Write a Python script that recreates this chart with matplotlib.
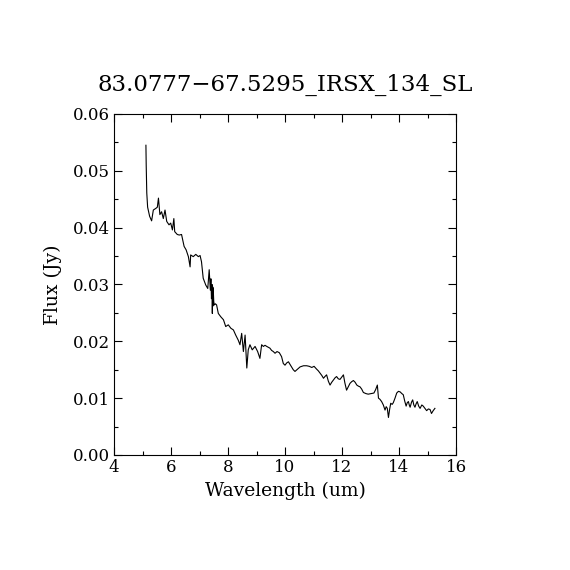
import numpy as np
import matplotlib
matplotlib.use('Agg')
import matplotlib.pyplot as plt
from matplotlib.ticker import MultipleLocator, FormatStrFormatter

title = '83.0777\u221267.5295_IRSX_134_SL'

wavelength = [5.12, 5.13, 5.15, 5.18, 5.25, 5.32, 5.38, 5.47, 5.52, 5.56, 5.61, 5.67,
              5.73, 5.79, 5.85, 5.93, 5.99, 6.05, 6.10, 6.13, 6.22, 6.29, 6.37, 6.46,
              6.53, 6.61, 6.67, 6.69, 6.78, 6.87, 6.96, 7.02, 7.07, 7.13, 7.22, 7.29,
              7.34, 7.38, 7.40, 7.42, 7.44, 7.45, 7.46, 7.47, 7.48, 7.50, 7.52, 7.56,
              7.60, 7.66, 7.75, 7.84, 7.92, 8.01, 8.10, 8.19, 8.27, 8.36, 8.42, 8.48,
              8.54, 8.60, 8.66, 8.71, 8.77, 8.85, 8.95, 9.04, 9.12, 9.18, 9.24, 9.30,
              9.36, 9.47, 9.53, 9.59, 9.65, 9.72,
              9.80, 9.88, 9.94, 10.00, 10.06, 10.12, 10.18, 10.23, 10.29, 10.35, 10.44,
              10.53, 10.65, 10.76, 10.85, 10.94, 11.02, 11.11, 11.17, 11.23, 11.29, 11.35,
              11.40, 11.46, 11.52, 11.58, 11.64, 11.70, 11.76, 11.81, 11.87, 11.93, 11.99,
              12.05, 12.10, 12.16, 12.22, 12.28, 12.34, 12.40, 12.46, 12.52, 12.58, 12.63,
              12.69, 12.75, 12.84, 12.92, 13.02, 13.12, 13.18, 13.24, 13.28, 13.33, 13.39,
              13.45, 13.51, 13.55, 13.59, 13.63, 13.67, 13.71, 13.76, 13.80, 13.86, 13.92,
              13.98, 14.04, 14.10, 14.15, 14.20, 14.25, 14.29, 14.33, 14.36, 14.39, 14.44,
              14.48, 14.52, 14.56, 14.60, 14.64, 14.69, 14.74, 14.80, 14.85, 14.91, 14.97,
              15.03, 15.09, 15.14, 15.20, 15.26]

flux = [0.0545, 0.0510, 0.0461, 0.0436, 0.0420, 0.0412, 0.0431, 0.0434, 0.0436, 0.0452,
        0.0423, 0.0428, 0.0416, 0.0431, 0.0411, 0.0405, 0.0408, 0.0396, 0.0416, 0.0393,
        0.0388, 0.0387, 0.0388, 0.0367, 0.0361, 0.0349, 0.0331, 0.0352, 0.0349, 0.0353,
        0.0349, 0.0351, 0.0340, 0.0311, 0.0299, 0.0293, 0.0326, 0.0290, 0.0310, 0.0275,
        0.0300, 0.0249, 0.0296, 0.0262, 0.0294, 0.0270, 0.0264, 0.0266, 0.0264, 0.0249,
        0.0243, 0.0238, 0.0226, 0.0229, 0.0223, 0.0220, 0.0211, 0.0202, 0.0194, 0.0214,
        0.0182, 0.0211, 0.0153, 0.0185, 0.0194, 0.0185, 0.0191, 0.0182, 0.0170, 0.0194,
        0.0191, 0.0193, 0.0191, 0.0188, 0.0184, 0.0182, 0.0179, 0.0182, 0.0180, 0.0173,
        0.0161, 0.0158, 0.0162, 0.0164, 0.0159, 0.0155, 0.0150, 0.0147, 0.0151, 0.0155,
        0.0157, 0.0157, 0.0156, 0.0154, 0.0156, 0.0151, 0.0148, 0.0144, 0.0140, 0.0135,
        0.0138, 0.0141, 0.0130, 0.0123, 0.0128, 0.0132, 0.0136, 0.0138, 0.0134, 0.0133,
        0.0137, 0.0141, 0.0127, 0.0114, 0.0120, 0.0126, 0.0129, 0.0131, 0.0128, 0.0123,
        0.0121, 0.0120, 0.0116, 0.0110, 0.0108, 0.0107, 0.0108, 0.0109, 0.0115, 0.0123,
        0.0100, 0.0098, 0.0094, 0.0088, 0.0079, 0.0085, 0.0082, 0.0066, 0.0080, 0.0091,
        0.0089, 0.0092, 0.0100, 0.0109, 0.0112, 0.0111, 0.0108, 0.0106, 0.0095, 0.0086,
        0.0092, 0.0094, 0.0088, 0.0084, 0.0093, 0.0097, 0.0088, 0.0084, 0.0090, 0.0094,
        0.0086, 0.0082, 0.0088, 0.0086, 0.0082, 0.0078, 0.0081, 0.0080, 0.0073, 0.0078,
        0.0082]

plt.rcParams['font.family'] = ['DejaVu Serif']

fig = plt.figure(figsize=(5.7, 5.7), dpi=100)
ax = fig.add_axes([0.2, 0.2018, 0.6, 0.5982])
ax.plot(wavelength, flux, color='black', lw=0.8)

ax.set_xlim(4, 16)
ax.set_ylim(0, 0.06)
ax.xaxis.set_major_locator(MultipleLocator(2))
ax.xaxis.set_minor_locator(MultipleLocator(1))
ax.yaxis.set_major_locator(MultipleLocator(0.01))
ax.yaxis.set_minor_locator(MultipleLocator(0.005))
ax.yaxis.set_major_formatter(FormatStrFormatter('%.2f'))
ax.tick_params(which='both', direction='in', top=True, right=True, labelsize=12, width=0.8, pad=3)
ax.tick_params(which='major', length=6)
ax.tick_params(which='minor', length=3)
for s in ax.spines.values():
    s.set_linewidth(0.8)

ax.set_xlabel('Wavelength (um)', fontsize=13.5, labelpad=4)
ax.set_ylabel('Flux (Jy)', fontsize=13.5, labelpad=8)
ax.set_title(title, fontsize=16.5, pad=17)

fig.savefig('out.png', dpi=100)
